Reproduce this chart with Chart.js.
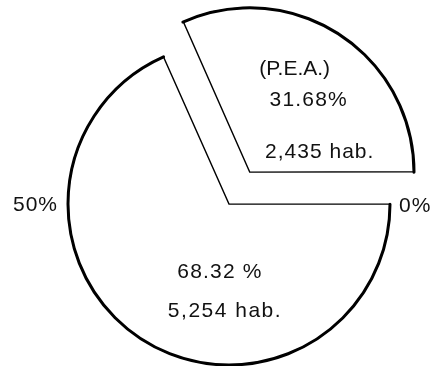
<!DOCTYPE html>
<html>
<head>
<meta charset="utf-8">
<script src="https://cdn.jsdelivr.net/npm/chart.js@4"></script>
<style>
  html, body { margin: 0; padding: 0; background: #fff; }
  #wrap { width: 439px; height: 366px; }
</style>
</head>
<body>
<div id="wrap"><canvas id="pie" width="439" height="366"></canvas></div>
<script>
// Población económicamente activa vs. resto
const categories = ['(P.E.A.)', ''];
const shares = [31.68, 68.32];
const inhabitants = [2435, 5254];
const scaleTicks = ['0%', '50%'];

const FONT = '21px "Liberation Sans", Arial, sans-serif';

// text lines drawn inside each slice, offsets from the slice centre
function sliceLines(i) {
  const hab = inhabitants[i].toLocaleString('en-US') + ' hab.';
  if (i === 0) {
    return [
      { text: categories[0], dx: 45, dy: -103, sp: '0px' },
      { text: shares[0].toFixed(2) + '%', dx: 59, dy: -72, sp: '1.2px' },
      { text: hab, dx: 70, dy: -20, sp: '1px' }
    ];
  }
  return [
    { text: shares[1].toFixed(2) + ' %', dx: -9, dy: 68, sp: '1.2px' },
    { text: hab, dx: -4, dy: 107, sp: '1.5px' }
  ];
}

// thick outer rim + hand-lettered labels
const rimAndLabels = {
  id: 'rimAndLabels',
  afterDatasetsDraw(chart) {
    const ctx = chart.ctx;
    const arcs = chart.getDatasetMeta(0).data;
    ctx.save();
    arcs.forEach((arc, i) => {
      const off = (arc.options.offset || 0) / 4;
      const mid = (arc.startAngle + arc.endAngle) / 2;
      const circ = arc.endAngle - arc.startAngle;
      const fix = 1 - Math.sin(Math.min(Math.PI, circ));
      const cx = arc.x + Math.cos(mid) * off;
      const cy = arc.y + Math.sin(mid) * off;
      const r = arc.outerRadius + off * fix;

      ctx.beginPath();
      ctx.arc(cx, cy, r, arc.startAngle, arc.endAngle);
      ctx.strokeStyle = '#000';
      ctx.lineWidth = 3;
      ctx.lineCap = 'round';
      ctx.stroke();

      ctx.fillStyle = '#111';
      ctx.font = FONT;
      ctx.textAlign = 'center';
      ctx.textBaseline = 'middle';
      sliceLines(i).forEach(l => {
        ctx.letterSpacing = l.sp;
        ctx.fillText(l.text, cx + l.dx, cy + l.dy);
      });
    });

    // scale marks on the horizontal diameter of the main slice
    const main = arcs[1];
    ctx.letterSpacing = '1px';
    ctx.textBaseline = 'middle';
    ctx.textAlign = 'left';
    ctx.fillText(scaleTicks[0], main.x + main.outerRadius + 9, main.y + 2);
    ctx.textAlign = 'right';
    ctx.fillText(scaleTicks[1], main.x - main.outerRadius - 10, main.y + 1);
    ctx.restore();
  }
};

new Chart(document.getElementById('pie'), {
  type: 'pie',
  data: {
    labels: categories,
    datasets: [{
      data: shares,
      backgroundColor: '#fff',
      borderColor: '#000',
      borderWidth: 1.4,
      borderJoinStyle: 'miter',
      offset: [152, 0],
      clip: false
    }]
  },
  options: {
    responsive: false,
    animation: false,
    events: [],
    rotation: -24,
    radius: 161,
    layout: { padding: { left: 19, right: 0, top: 42, bottom: 0 } },
    plugins: {
      legend: { display: false },
      tooltip: { enabled: false }
    }
  },
  plugins: [rimAndLabels]
});
</script>
</body>
</html>
